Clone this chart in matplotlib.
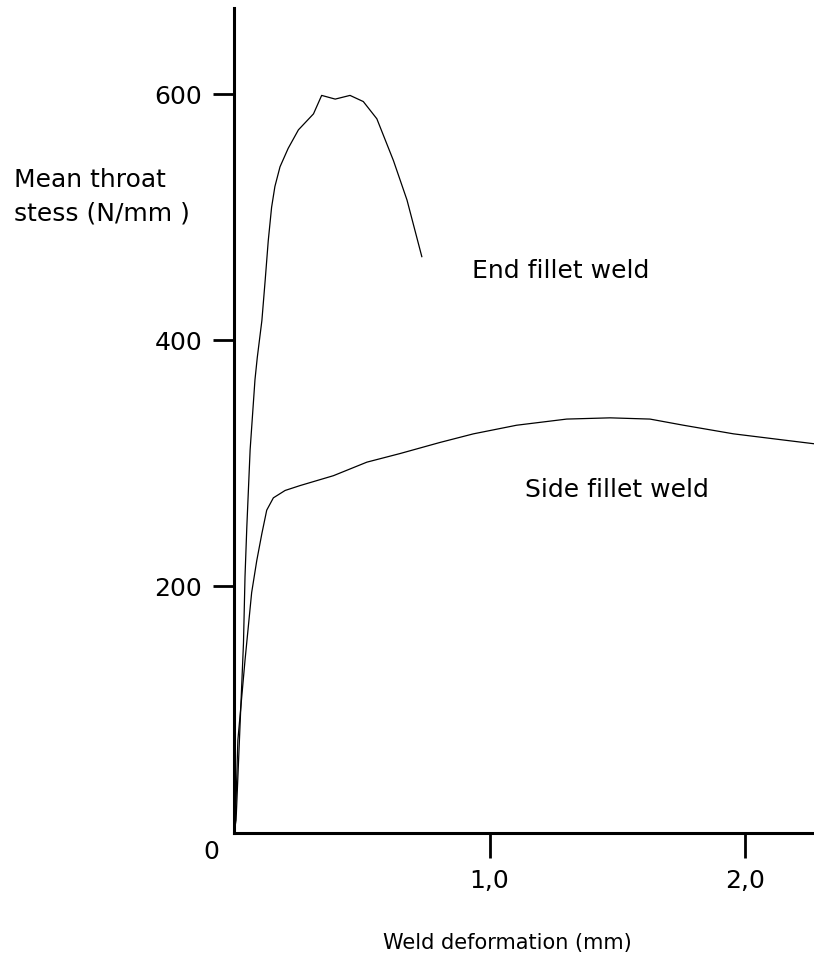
"""Weld stress vs deformation curves."""

import matplotlib
matplotlib.use("Agg")
import matplotlib.pyplot as plt

# end fillet weld (deformation mm, mean throat stress N/mm2)
end_x = [0.0, 0.008, 0.037, 0.043, 0.050, 0.063, 0.072, 0.082, 0.091, 0.109,
         0.122, 0.134, 0.147, 0.160, 0.180, 0.212, 0.252, 0.311, 0.343, 0.396,
         0.454, 0.506, 0.559, 0.624, 0.677, 0.735]
end_y = [0, 10, 154, 208, 248, 311, 338, 368, 386, 416,
         449, 481, 508, 525, 541, 556, 571, 584, 599, 596,
         599, 594, 580, 546, 514, 468]

# side fillet weld
side_x = [0.0, 0.008, 0.015, 0.043, 0.069, 0.089, 0.109, 0.128, 0.154, 0.200,
          0.259, 0.389, 0.520, 0.650, 0.806, 0.937, 1.106, 1.302, 1.472, 1.628,
          1.759, 1.955, 2.150, 2.268]
side_y = [0, 26, 75, 140, 195, 221, 243, 262, 272, 278,
          282, 290, 301, 308, 317, 324, 331, 336, 337, 336,
          331, 324, 319, 316]

x_ticks = [1.0, 2.0]
x_labels = ["1,0", "2,0"]
y_ticks = [200, 400, 600]
y_labels = ["200", "400", "600"]

FS = 18

fig = plt.figure(figsize=(8.14, 9.67), dpi=100)
ax = fig.add_axes([0.2875, 0.139, 0.7125, 0.8527])

ax.plot(end_x, end_y, color="black", linewidth=0.9)
ax.plot(side_x, side_y, color="black", linewidth=0.9)

ax.set_xlim(0, 2.27)
ax.set_ylim(0, 670)

for s in ("top", "right"):
    ax.spines[s].set_visible(False)
for s in ("left", "bottom"):
    ax.spines[s].set_linewidth(2.2)

ax.set_xticks(x_ticks)
ax.set_xticklabels(x_labels, fontsize=FS)
ax.set_yticks(y_ticks)
ax.set_yticklabels(y_labels, fontsize=FS)
ax.tick_params(axis="x", direction="out", length=18, width=2, pad=8)
ax.tick_params(axis="y", direction="out", length=15, width=2, pad=8)

# origin label
ax.annotate("0", xy=(0, 0), xytext=(-16, -14), textcoords="offset points",
            ha="center", va="center", fontsize=FS)

fig.text(14 / 814, 1 - 180 / 967, "Mean throat", fontsize=FS,
         ha="left", va="center")
fig.text(14 / 814, 1 - 213 / 967, "stess (N/mm )", fontsize=FS,
         ha="left", va="center")
fig.text(507 / 814, 1 - 943 / 967, "Weld deformation (mm)", fontsize=15,
         ha="center", va="center")

ax.text(1.28, 456, "End fillet weld", fontsize=FS, ha="center", va="center")
ax.text(1.50, 278, "Side fillet weld", fontsize=FS, ha="center", va="center")

fig.savefig("out.png", dpi=100)
plt.close(fig)
